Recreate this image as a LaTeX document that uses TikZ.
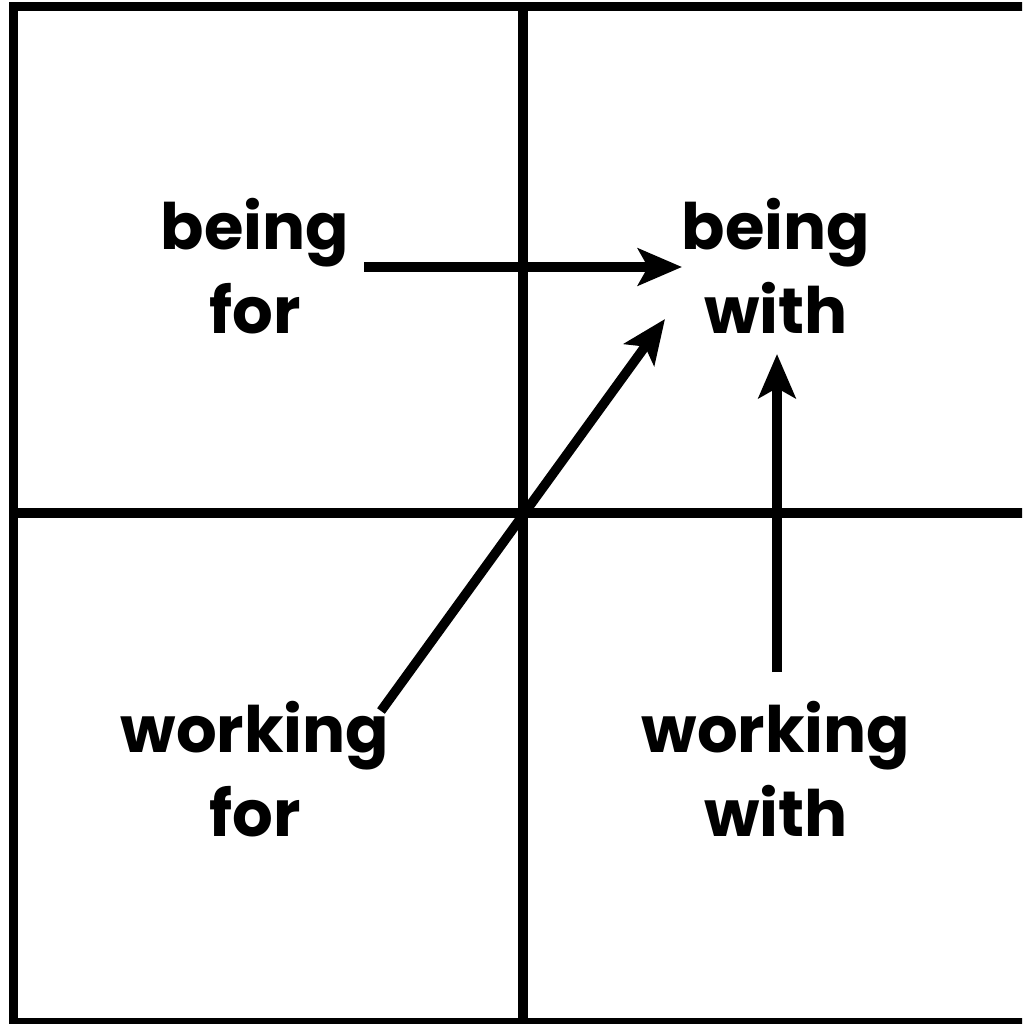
\documentclass[tikz,border=0pt]{standalone}
\usepackage{fontspec}
\newfontfamily\labfont{Poppins}
\usetikzlibrary{arrows.meta}
\tikzset{
  gridline/.style={line width=9.5pt, black},
  arrowline/.style={line width=9.5pt, black, -{Stealth[length=44pt, width=37pt, inset=10pt]}},
  lab/.style={font=\labfont\bfseries\fontsize{64}{84}\selectfont, align=center, inner sep=0pt, anchor=base}
}
\begin{document}
\begin{tikzpicture}[x=1pt, y=-1pt]
\useasboundingbox (0,0) rectangle (1022,1024);
\clip (0,0) rectangle (1022,1024);
\fill[white] (0,0) rectangle (1022,1024);
% grid
\draw[gridline] (13.5,6.5) rectangle (1032,1022.5);
\draw[gridline] (523,6.5) -- (523,1022.5);
\draw[gridline] (13.5,513) -- (1032,513);
% labels (base = baseline of the last line)
\node[lab] (bf) at (255,333) {being\\for};
\node[lab] (bw) at (776,333) {being\\with};
\node[lab] (wf) at (255,836) {working\\for};
\node[lab] (ww) at (776,836) {working\\with};
% connector end points
\coordinate (bfE) at (364,267);
\coordinate (bwW) at (682,267);
\coordinate (wfE) at (381,711);
\coordinate (bwSW) at (665,319);
\coordinate (wwN) at (777,672);
\coordinate (bwS) at (777,354);
\draw[arrowline] (bfE) -- (bwW);
\draw[arrowline] (wfE) -- (bwSW);
\draw[arrowline] (wwN) -- (bwS);
\end{tikzpicture}
\end{document}
